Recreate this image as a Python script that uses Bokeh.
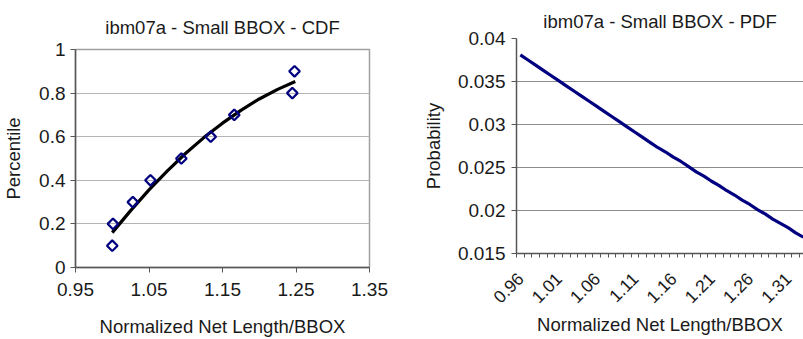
from bokeh.plotting import figure
from bokeh.layouts import row, column
from bokeh.models import FixedTicker, CustomJSTickFormatter, Range1d
from bokeh.embed import file_html
from bokeh.resources import INLINE

# ---------------- data ----------------
cdf_title = "ibm07a - Small BBOX - CDF"
pdf_title = "ibm07a - Small BBOX - PDF"
x_label = "Normalized Net Length/BBOX"

cdf_x = [1.000, 1.001, 1.028, 1.052, 1.094, 1.134, 1.166, 1.245, 1.248]
cdf_y = [0.1, 0.2, 0.3, 0.4, 0.5, 0.6, 0.7, 0.8, 0.9]

trend_x = [1.000, 1.025, 1.050, 1.075, 1.100, 1.125, 1.150, 1.175, 1.200, 1.225, 1.249]
trend_y = [0.160, 0.261, 0.356, 0.443, 0.524, 0.597, 0.662, 0.721, 0.773, 0.817, 0.853]

cdf_xticks = [0.95, 1.05, 1.15, 1.25, 1.35]
cdf_yticks = [0, 0.2, 0.4, 0.6, 0.8, 1]

pdf_x = [0.96, 0.97, 0.98, 0.99, 1.00, 1.01, 1.02, 1.03, 1.04, 1.05,
         1.06, 1.07, 1.08, 1.09, 1.10, 1.11, 1.12, 1.13, 1.14, 1.15,
         1.16, 1.17, 1.18, 1.19, 1.20, 1.21, 1.22, 1.23, 1.24, 1.25,
         1.26, 1.27, 1.28, 1.29, 1.30, 1.31, 1.32, 1.33]
pdf_y = [0.0381, 0.0375, 0.0369, 0.0363, 0.0357, 0.0351, 0.0345, 0.0339, 0.0333, 0.0327,
         0.0321, 0.0315, 0.0309, 0.0303, 0.0297, 0.0291, 0.0285, 0.0279, 0.0273, 0.0268,
         0.0262, 0.0257, 0.0251, 0.0245, 0.0240, 0.0234, 0.0229, 0.0223, 0.0218, 0.0212,
         0.0207, 0.0201, 0.0196, 0.0190, 0.0185, 0.0180, 0.0174, 0.0169]
pdf_yticks = [0.015, 0.02, 0.025, 0.03, 0.035, 0.04]
pdf_label_every = 5

FONT = "Liberation Sans"
TXT = "#1a1a1a"
NAVY = "#000080"

fmt_code = "return String(parseFloat(tick.toFixed(4)));"


def style_common(p):
    p.title.align = "center"
    p.title.text_font = FONT
    p.title.text_font_size = "18.5px"
    p.title.text_font_style = "normal"
    p.title.text_color = TXT
    p.background_fill_color = "white"
    p.border_fill_color = "white"
    for ax in (p.xaxis[0], p.yaxis[0]):
        ax.major_label_text_font = FONT
        ax.major_label_text_font_size = "19px"
        ax.major_label_text_color = TXT
        ax.axis_label_text_font = FONT
        ax.axis_label_text_font_size = "18.5px"
        ax.axis_label_text_font_style = "normal"
        ax.axis_label_text_color = TXT
        ax.axis_line_color = "#555555"
        ax.axis_line_width = 1.5
        ax.major_tick_line_color = "#555555"
        ax.minor_tick_line_color = "#555555"
        ax.formatter = CustomJSTickFormatter(code=fmt_code)


# ---------------- left: CDF ----------------
p1 = figure(width=390, height=339, output_backend="svg", toolbar_location=None,
            x_range=Range1d(0.95, 1.35), y_range=Range1d(0, 1),
            min_border_left=73, min_border_right=21, min_border_top=49,
            min_border_bottom=72, title=cdf_title)
style_common(p1)
p1.title.standoff = 23
p1.outline_line_color = "#a0a0a0"
p1.outline_line_width = 1.5
p1.xgrid.grid_line_color = None
p1.ygrid.grid_line_color = "#b4b4b4"
p1.ygrid.grid_line_width = 1.2
p1.xaxis.ticker = FixedTicker(ticks=cdf_xticks, minor_ticks=[])
p1.yaxis.ticker = FixedTicker(ticks=cdf_yticks, minor_ticks=[])
p1.xaxis.major_tick_in = 0
p1.xaxis.major_tick_out = 5
p1.yaxis.major_tick_in = 0
p1.yaxis.major_tick_out = 5
p1.xaxis.major_label_standoff = 10
p1.yaxis.major_label_standoff = 5
p1.xaxis.axis_label = x_label
p1.yaxis.axis_label = "Percentile"
p1.xaxis.axis_label_standoff = 17
p1.yaxis.axis_label_standoff = 12

p1.line(trend_x, trend_y, line_color="black", line_width=3.2)
p1.scatter(cdf_x, cdf_y, marker="square", angle=0.785398, size=7.5, fill_color=None,
           line_color=NAVY, line_width=2.2)

# ---------------- right: PDF ----------------
half = 0.005
boundaries = [c - half for c in pdf_x] + [pdf_x[-1] + half]
p2 = figure(width=413, height=339, output_backend="svg", toolbar_location=None,
            x_range=Range1d(pdf_x[0] - half, pdf_x[-1] + 0.0002),
            y_range=Range1d(0.015, 0.04),
            min_border_left=126, min_border_right=0, min_border_top=38,
            min_border_bottom=86, title=pdf_title)
style_common(p2)
p2.title.standoff = 14
p2.outline_line_color = None
p2.xgrid.grid_line_color = None
p2.ygrid.grid_line_color = "#8c8c8c"
p2.ygrid.grid_line_width = 1.2
p2.xaxis.ticker = FixedTicker(ticks=pdf_x[::pdf_label_every], minor_ticks=boundaries)
p2.yaxis.ticker = FixedTicker(ticks=pdf_yticks, minor_ticks=[])
p2.xaxis.major_tick_in = 0
p2.xaxis.major_tick_out = 0
p2.xaxis.minor_tick_in = 0
p2.xaxis.minor_tick_out = 4
p2.yaxis.major_tick_in = 0
p2.yaxis.major_tick_out = 5
p2.yaxis.minor_tick_out = 0
p2.xaxis.major_label_orientation = 0.785398
p2.xaxis.major_label_text_font_size = "17.5px"
p2.xaxis.major_label_standoff = 18
p2.yaxis.major_label_standoff = 6
p2.xaxis.axis_label = x_label
p2.yaxis.axis_label = "Probability"
p2.xaxis.axis_label_standoff = 2
p2.yaxis.axis_label_standoff = 11

p2.line(pdf_x, pdf_y, line_color=NAVY, line_width=3.2)

layout = row(column(p1), column(p2))
open("out.html", "w").write(file_html(layout, INLINE))
